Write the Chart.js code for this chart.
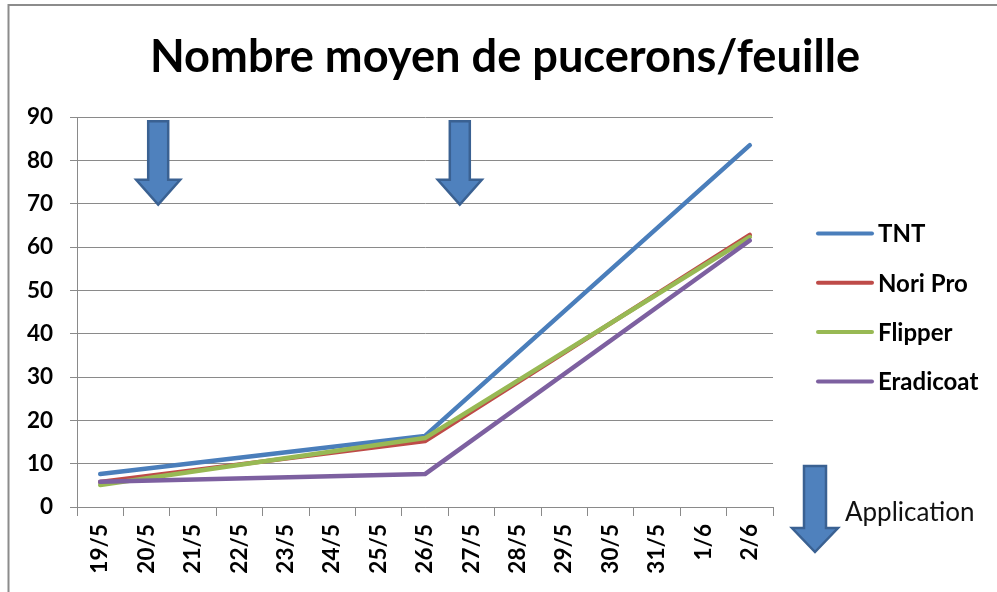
<!DOCTYPE html>
<html>
<head>
<meta charset="utf-8">
<script src="https://cdn.jsdelivr.net/npm/chart.js@4"></script>
<style>
  html, body { margin: 0; padding: 0; background: #fff; }
  #wrap { width: 997px; height: 592px; }
</style>
</head>
<body>
<div id="wrap"><canvas id="chart" width="997" height="592"></canvas></div>
<script>
const chartTitle = 'Nombre moyen de pucerons/feuille';
const days = ['19/5', '20/5', '21/5', '22/5', '23/5', '24/5', '25/5', '26/5', '27/5', '28/5', '29/5', '30/5', '31/5', '1/6', '2/6'];
const _ = null;
const tnt       = [7.6, _, _, _, _, _, _, 16.4, _, _, _, _, _, _, 83.5];
const noriPro   = [5.8, _, _, _, _, _, _, 15.2, _, _, _, _, _, _, 62.8];
const flipper   = [5.1, _, _, _, _, _, _, 15.9, _, _, _, _, _, _, 62.3];
const eradicoat = [5.8, _, _, _, _, _, _, 7.6,  _, _, _, _, _, _, 61.5];
const yTicks = [0, 10, 20, 30, 40, 50, 60, 70, 80, 90];
// application dates, as category index (arrows sit between two days)
const applications = [1.25, 7.75];
const applicationLabel = 'Application';

const colors = { tnt: '#4a7ebb', nori: '#be4b48', flipper: '#98b954', eradicoat: '#7d60a0' };
const gridColor = '#8a8a8a';
const FONT = 'Lato';

const series = [
  { label: 'TNT', data: tnt, color: colors.tnt },
  { label: 'Nori Pro', data: noriPro, color: colors.nori },
  { label: 'Flipper', data: flipper, color: colors.flipper },
  { label: 'Eradicoat', data: eradicoat, color: colors.eradicoat }
];

function blockArrow(ctx, cx, top, headTop, tip, shaftW, headW) {
  ctx.beginPath();
  ctx.moveTo(cx - shaftW / 2, top);
  ctx.lineTo(cx + shaftW / 2, top);
  ctx.lineTo(cx + shaftW / 2, headTop);
  ctx.lineTo(cx + headW / 2, headTop);
  ctx.lineTo(cx, tip);
  ctx.lineTo(cx - headW / 2, headTop);
  ctx.lineTo(cx - shaftW / 2, headTop);
  ctx.closePath();
  ctx.fillStyle = '#4f81bd';
  ctx.fill();
  ctx.lineWidth = 2.5;
  ctx.strokeStyle = '#3a6192';
  ctx.lineJoin = 'miter';
  ctx.stroke();
}

const decor = {
  id: 'decor',
  beforeDraw(chart) {
    const ctx = chart.ctx;
    ctx.save();
    ctx.fillStyle = '#fff';
    ctx.fillRect(0, 0, chart.width, chart.height);
    // frame
    ctx.strokeStyle = '#8c8c8c';
    ctx.lineWidth = 2;
    ctx.beginPath();
    ctx.moveTo(8.5, chart.height);
    ctx.lineTo(8.5, 5);
    ctx.lineTo(chart.width, 5);
    ctx.stroke();
    // title
    ctx.fillStyle = '#000';
    ctx.font = `bold 46px ${FONT}`;
    ctx.textAlign = 'center';
    ctx.textBaseline = 'alphabetic';
    ctx.fillText(chartTitle, 505, 72, 710);
    ctx.restore();
  },
  afterDraw(chart) {
    const ctx = chart.ctx;
    const x = chart.scales.x, y = chart.scales.y;
    const area = chart.chartArea;
    ctx.save();
    applications.forEach(i => {
      const cx = x.getPixelForValue(i);
      blockArrow(ctx, cx, y.getPixelForValue(89), y.getPixelForValue(75.5), y.getPixelForValue(69.8), 20, 44);
    });
    // legend
    const lx = area.right + 45;
    series.forEach((s, i) => {
      const ly = 233.5 + i * 49.3;
      ctx.strokeStyle = s.color;
      ctx.lineWidth = 4;
      ctx.lineCap = 'round';
      ctx.beginPath();
      ctx.moveTo(lx, ly);
      ctx.lineTo(lx + 54, ly);
      ctx.stroke();
      ctx.fillStyle = '#000';
      ctx.font = `bold 24px ${FONT}`;
      ctx.textAlign = 'left';
      ctx.textBaseline = 'middle';
      ctx.fillText(s.label, lx + 60, ly + 1, 102);
    });
    // application key
    blockArrow(ctx, area.right + 42, 466, 528, 552, 22, 46);
    ctx.fillStyle = '#111';
    ctx.font = `26px ${FONT}`;
    ctx.textAlign = 'left';
    ctx.textBaseline = 'middle';
    ctx.fillText(applicationLabel, area.right + 72, 513, 133);
    ctx.restore();
  }
};

new Chart(document.getElementById('chart'), {
  type: 'line',
  data: {
    labels: days,
    datasets: series.map((s, i) => ({
      label: s.label,
      data: s.data,
      order: series.length - 1 - i,
      borderColor: s.color,
      backgroundColor: s.color,
      borderWidth: 4.5,
      borderCapStyle: 'round',
      borderJoinStyle: 'round',
      pointRadius: 0,
      pointHoverRadius: 0,
      spanGaps: true,
      tension: 0
    }))
  },
  options: {
    responsive: false,
    animation: false,
    events: [],
    layout: { padding: { left: 0, top: 117, right: 224, bottom: 0 } },
    plugins: { legend: { display: false }, title: { display: false }, tooltip: { enabled: false } },
    scales: {
      x: {
        offset: true,
        grid: { offset: true, drawOnChartArea: false, color: gridColor, tickLength: 9, lineWidth: 1 },
        border: { color: gridColor, width: 1 },
        ticks: {
          autoSkip: false, minRotation: 90, maxRotation: 90, padding: 8,
          color: '#000', font: { family: FONT, size: 22.5, weight: 'bold' }
        },
        afterFit: s => { s.height = 85; }
      },
      y: {
        min: 0, max: 90,
        afterBuildTicks: s => { s.ticks = yTicks.map(v => ({ value: v })); },
        grid: { color: gridColor, tickLength: 7, lineWidth: 1 },
        border: { color: gridColor, width: 1 },
        ticks: { padding: 17, color: '#000', font: { family: FONT, size: 22.5, weight: 'bold' } },
        afterFit: s => { s.width = 77; }
      }
    }
  },
  plugins: [decor]
});
</script>
</body>
</html>
